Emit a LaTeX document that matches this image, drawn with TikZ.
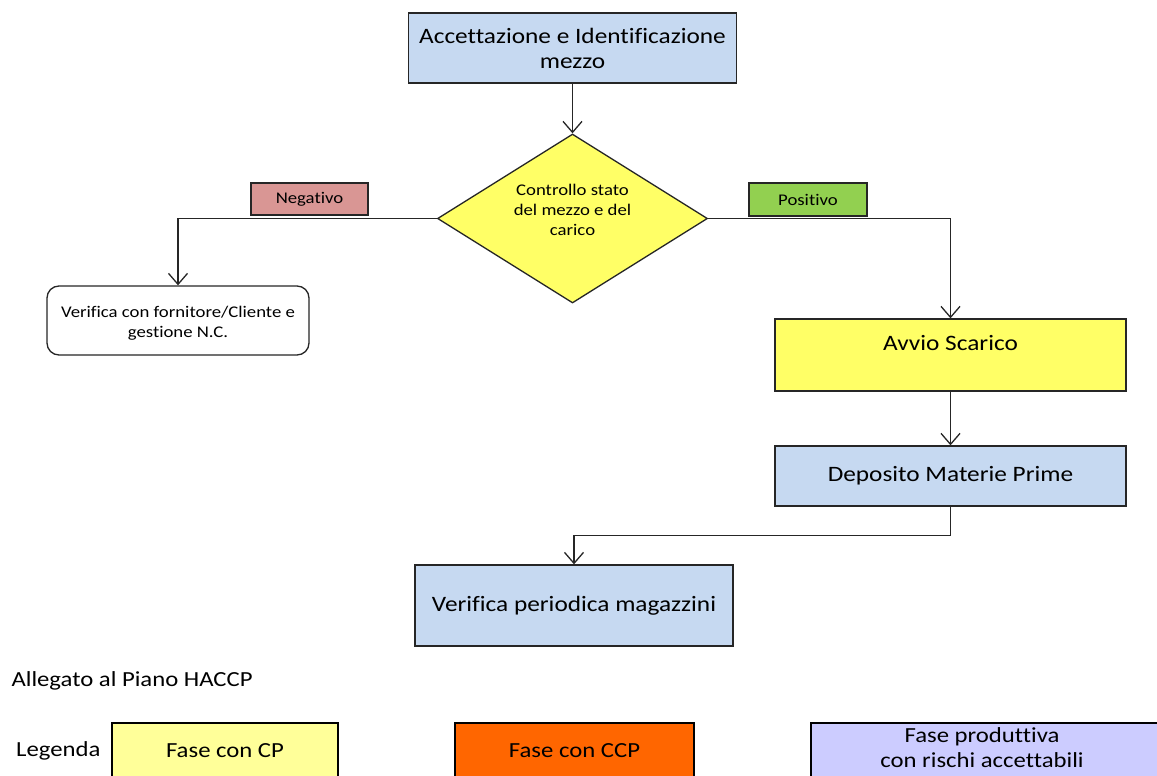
\documentclass[tikz,border=0pt]{standalone}
\usepackage{fontspec}
\setmainfont{Carlito}[FakeStretch=1.15, Ligatures=NoCommon]
\usetikzlibrary{shapes.geometric,arrows.meta}
\definecolor{boxblue}{HTML}{C6D9F1}
\definecolor{stepyellow}{HTML}{FFFF66}
\definecolor{negred}{HTML}{D99694}
\definecolor{posgreen}{HTML}{92D050}
\definecolor{legyellow}{HTML}{FFFF99}
\definecolor{legorange}{HTML}{FF6600}
\definecolor{leglilac}{HTML}{CCCCFF}
\newcommand{\bigtxt}{\fontsize{22}{25}\selectfont}
\newcommand{\smalltxt}{\fontsize{16.3}{20}\selectfont}
\newcommand{\legtxt}{\fontsize{21.5}{25}\selectfont}
\tikzset{
  phase/.style={draw=black!85, line width=1.3pt, rectangle, inner sep=0pt, align=center},
  tag/.style={draw=black!85, line width=1.3pt, rectangle, inner sep=0pt, font=\smalltxt},
  legbox/.style={draw=black, line width=2.6pt, rectangle, inner sep=0pt},
  flow/.style={draw=black!85, line width=1.3pt, -{Straight Barb[length=11pt,width=19pt,line width=1.3pt]}},
}
\begin{document}
\begin{tikzpicture}[x=1pt,y=-1pt]
\useasboundingbox (0,0) rectangle (1157,776);
\begin{scope}
\clip (0,0) rectangle (1157,776);

% process steps
\node[phase, fill=boxblue, minimum width=328pt, minimum height=70pt, font=\bigtxt]
      (acc) at (572.5,48) {Accettazione e Identificazione\\mezzo};
\node[draw=black!85, line width=1.3pt, diamond, fill=stepyellow, inner sep=0pt,
      minimum width=270pt, minimum height=169pt] (chk) at (572.5,218.5) {};
\node[font=\smalltxt, align=center] (chktxt) at (572.5,210)
      {Controllo stato\\del mezzo e del\\carico};
\node[tag, fill=negred, minimum width=117pt, minimum height=32pt] (neg) at (309.5,199) {Negativo};
\node[tag, fill=posgreen, minimum width=118pt, minimum height=33pt] (pos) at (808,199.5) {Positivo};
\node[phase, fill=white, rounded corners=12pt, minimum width=262pt, minimum height=69pt]
      (nc) at (178,320.5) {};
\node[font=\smalltxt, align=center] (nctxt) at (178,323)
      {Verifica con fornitore/Cliente e\\gestione N.C.};
\node[phase, fill=stepyellow, minimum width=351pt, minimum height=72pt] (scar) at (950.5,355) {};
\node[font=\bigtxt] (scartxt) at (950.5,343.5) {Avvio Scarico};
\node[phase, fill=boxblue, minimum width=351pt, minimum height=60pt, font=\bigtxt]
      (dep) at (950.5,476) {Deposito Materie Prime};
\node[phase, fill=boxblue, minimum width=318pt, minimum height=81pt, font=\bigtxt]
      (mag) at (574,605.5) {Verifica periodica magazzini};

% connectors
\draw[flow] (acc.south) -- (chk.north);
\draw[flow] (chk.west) -| (nc.north);
\draw[flow] (chk.east) -| (scar.north);
\draw[flow] (scar.south) -- (dep.north);
\draw[flow] (dep.south) -- ++(0,29) coordinate (bend) -| (mag.north);

% footer and legend
\node[anchor=west, font=\legtxt] (alleg) at (8,681) {Allegato al Piano HACCP};
\node[anchor=east, font=\legtxt] (leg) at (104,751) {Legenda};
\node[legbox, fill=legyellow, minimum width=226pt, minimum height=80pt] (cp) at (225,763) {};
\node[font=\legtxt] (cptxt) at (225,751) {Fase con CP};
\node[legbox, fill=legorange, minimum width=239pt, minimum height=80pt] (ccp) at (574.5,763) {};
\node[font=\legtxt] (ccptxt) at (574.5,751) {Fase con CCP};
\node[legbox, fill=leglilac, minimum width=380pt, minimum height=80pt] (accr) at (1001,763) {};
\node[font=\legtxt, align=center] (accrtxt) at (982,747.5)
      {Fase produttiva\\con rischi accettabili};
\end{scope}
\end{tikzpicture}
\end{document}
